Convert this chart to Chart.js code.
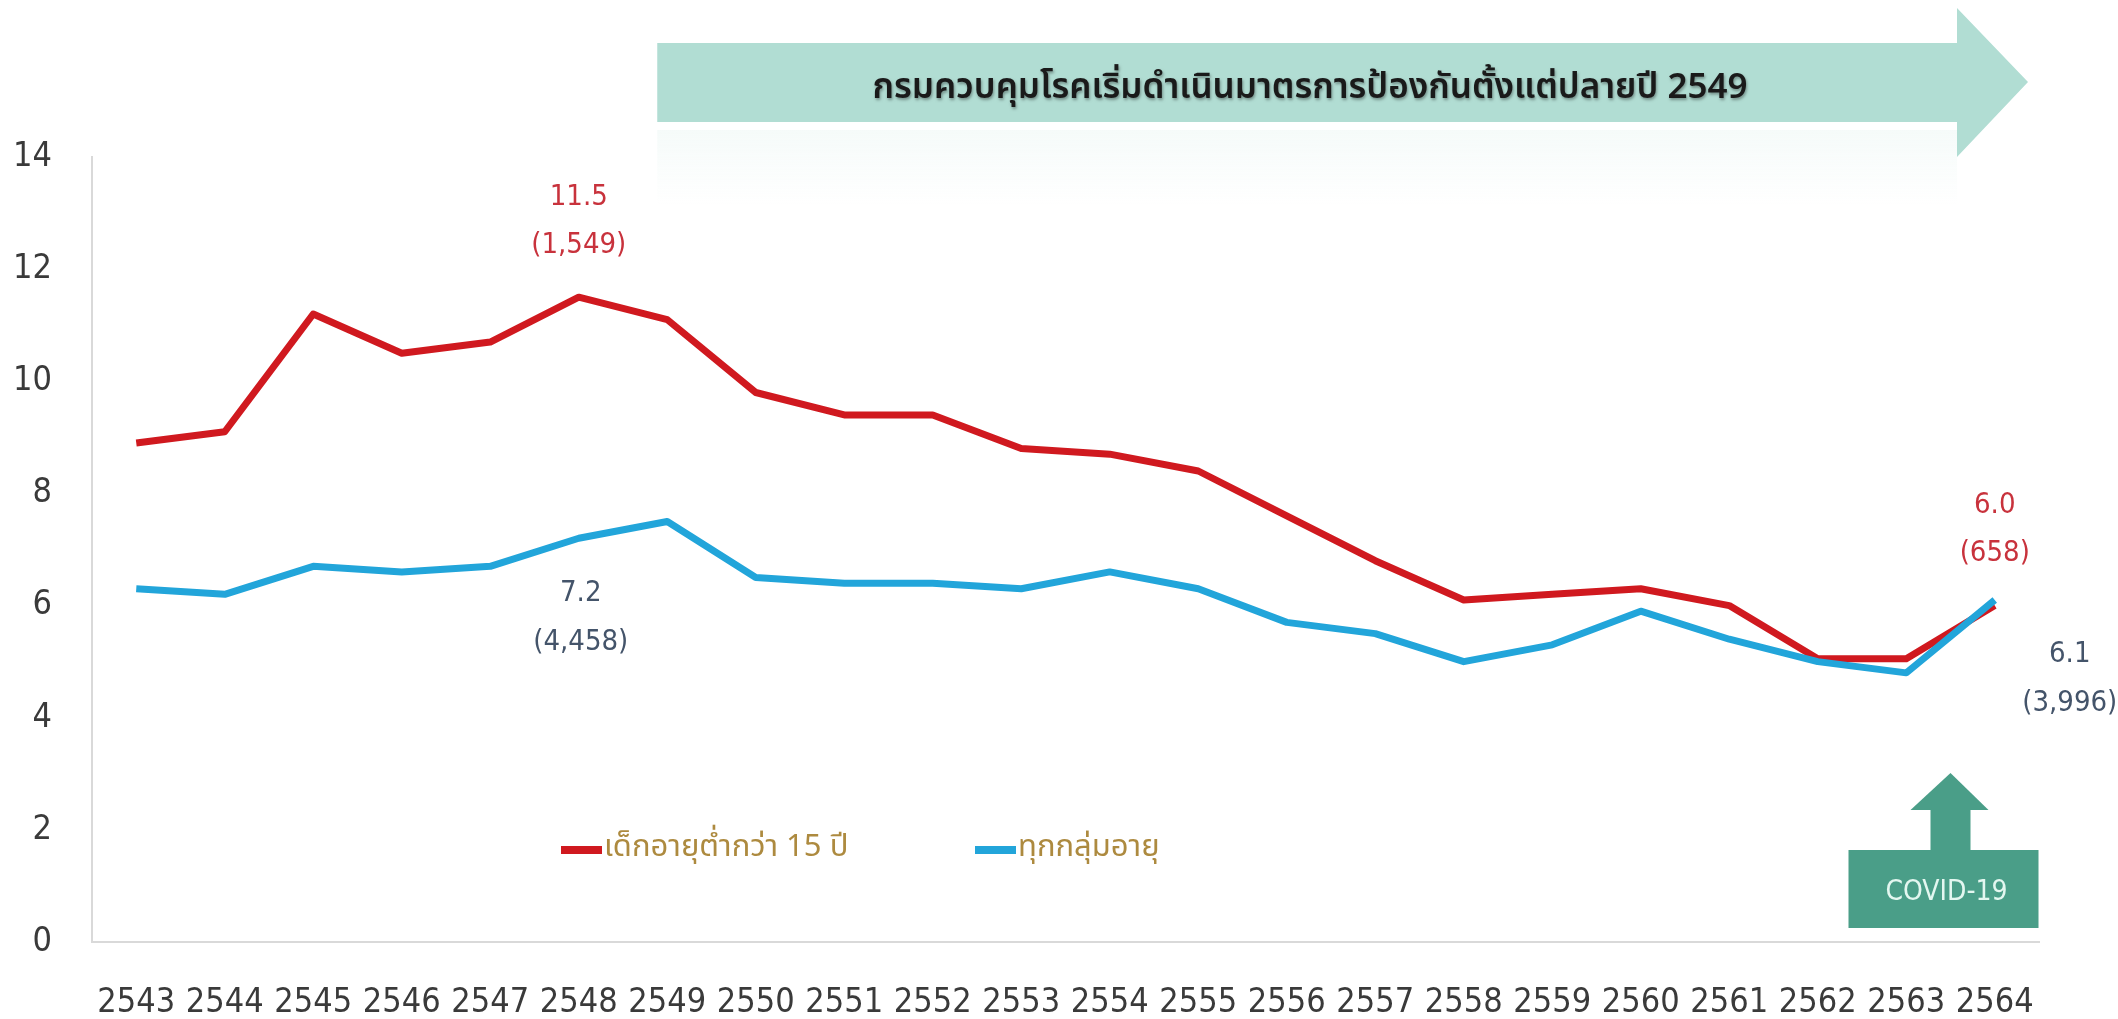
<!DOCTYPE html>
<html lang="th">

<head>
  <meta charset="UTF-8" />
  <meta name="viewport" content="width=device-width, initial-scale=1.0" />
  <title>อัตราป่วย</title>
  <style>
    * {
      margin: 0;
      padding: 0;
    }

    body {
      background: #ffffff;
      overflow: hidden;
    }

    .chartBox {
      width: 2118px;
      height: 1019px;
    }
  </style>
</head>

<body>
  <div class="chartBox">
    <canvas id="myChart"></canvas>
  </div>
  <script src="https://cdn.jsdelivr.net/npm/chart.js@4.4.1/dist/chart.umd.min.js"></script>
  <script>
    const years = [
      "2543", "2544", "2545", "2546", "2547", "2548", "2549", "2550", "2551", "2552", "2553",
      "2554", "2555", "2556", "2557", "2558", "2559", "2560", "2561", "2562", "2563", "2564"
    ];
    const childRate = [
      8.9, 9.1, 11.2, 10.5, 10.7, 11.5, 11.1, 9.8, 9.4, 9.4, 8.8,
      8.7, 8.4, 7.6, 6.8, 6.1, 6.2, 6.3, 6.0, 5.05, 5.05, 6.0
    ];
    const allRate = [
      6.3, 6.2, 6.7, 6.6, 6.7, 7.2, 7.5, 6.5, 6.4, 6.4, 6.3,
      6.6, 6.3, 5.7, 5.5, 5.0, 5.3, 5.9, 5.4, 5.0, 4.8, 6.1
    ];
    const seriesNames = ["เด็กอายุต่ำกว่า 15 ปี", "ทุกกลุ่มอายุ"];
    // callout texts keyed by year index
    const childNotes = { 5: ["11.5", "(1,549)"], 21: ["6.0", "(658)"] };
    const allNotes = { 5: ["7.2", "(4,458)"], 21: ["6.1", "(3,996)"] };
    const bannerText = "กรมควบคุมโรคเริ่มดำเนินมาตรการป้องกันตั้งแต่ปลายปี 2549";
    const covidText = "COVID-19";

    const RED = "#D0191F";
    const BLUE = "#22A5DA";
    const narrow = "'Liberation Sans Narrow', 'DejaVu Sans Condensed', 'Liberation Sans', sans-serif";
    const thai = "'Noto Sans Thai', 'Noto Sans Thai UI', 'Loma', 'Garuda', 'Tlwg Typo', sans-serif";

    const decorations = {
      id: "decorations",
      beforeDatasetsDraw(chart) {
        const ctx = chart.ctx;
        const x = chart.scales.x;
        ctx.save();

        // banner arrow with faint reflection
        const bx0 = x.getPixelForValue(6) - 10;
        const bx1 = 1957;
        const grad = ctx.createLinearGradient(0, 130, 0, 205);
        grad.addColorStop(0, "rgba(177,221,211,0.12)");
        grad.addColorStop(1, "rgba(177,221,211,0)");
        ctx.fillStyle = grad;
        ctx.fillRect(bx0, 130, bx1 - bx0, 75);
        ctx.fillStyle = "#B1DDD3";
        ctx.beginPath();
        ctx.moveTo(bx0, 43);
        ctx.lineTo(bx1, 43);
        ctx.lineTo(bx1, 8);
        ctx.lineTo(2028, 82);
        ctx.lineTo(bx1, 157);
        ctx.lineTo(bx1, 122);
        ctx.lineTo(bx0, 122);
        ctx.closePath();
        ctx.fill();

        ctx.font = "600 35px " + thai;
        ctx.textAlign = "center";
        ctx.textBaseline = "middle";
        ctx.shadowColor = "rgba(0,0,0,0.35)";
        ctx.shadowBlur = 3;
        ctx.shadowOffsetX = 1;
        ctx.shadowOffsetY = 2;
        ctx.fillStyle = "#1a1a1a";
        ctx.fillText(bannerText, 1310, 91);
        ctx.shadowColor = "transparent";

        // covid box with up arrow
        const cx = (x.getPixelForValue(20) + x.getPixelForValue(21)) / 2;
        ctx.fillStyle = "#4A9E88";
        ctx.fillRect(cx - 102, 850, 190, 78);
        ctx.fillRect(cx - 20, 808, 40, 44);
        ctx.beginPath();
        ctx.moveTo(cx - 40, 810);
        ctx.lineTo(cx, 773);
        ctx.lineTo(cx + 38, 810);
        ctx.closePath();
        ctx.fill();
        ctx.font = "28px 'DejaVu Sans Condensed', 'DejaVu Sans', sans-serif";
        ctx.fillStyle = "#E3F7F0";
        ctx.fillText(covidText, cx - 4, 893);

        // legend inside plot
        const ly = 850;
        const items = [
          { color: RED, x0: 561, text: seriesNames[0] },
          { color: BLUE, x0: 975, text: seriesNames[1] }
        ];
        ctx.textAlign = "left";
        ctx.font = "31px " + thai;
        items.forEach((it) => {
          ctx.strokeStyle = it.color;
          ctx.lineWidth = 8;
          ctx.beginPath();
          ctx.moveTo(it.x0, ly);
          ctx.lineTo(it.x0 + 41, ly);
          ctx.stroke();
          ctx.fillStyle = "#AD8A3F";
          ctx.fillText(it.text, it.x0 + 43, ly);
        });
        ctx.restore();
      },
      afterDatasetsDraw(chart) {
        const ctx = chart.ctx;
        const x = chart.scales.x;
        const y = chart.scales.y;
        ctx.save();
        ctx.font = "29px 'DejaVu Sans Condensed', 'DejaVu Sans', sans-serif";
        ctx.textAlign = "center";
        ctx.textBaseline = "middle";
        ctx.fillStyle = "#C8323C";
        Object.keys(childNotes).forEach((k) => {
          const i = Number(k);
          const px = x.getPixelForValue(i);
          const py = y.getPixelForValue(childRate[i]);
          ctx.fillText(childNotes[k][0], px, py - 100);
          ctx.fillText(childNotes[k][1], px, py - 52);
        });
        ctx.fillStyle = "#44546A";
        Object.keys(allNotes).forEach((k) => {
          const i = Number(k);
          const px = x.getPixelForValue(i) + (i === years.length - 1 ? 75 : 2);
          const py = y.getPixelForValue(allRate[i]);
          ctx.fillText(allNotes[k][0], px, py + 55);
          ctx.fillText(allNotes[k][1], px, py + 104);
        });
        ctx.restore();
      }
    };

    const data = {
      labels: years,
      datasets: [
        {
          label: seriesNames[0],
          data: childRate,
          borderColor: RED,
          backgroundColor: RED,
          order: 1
        },
        {
          label: seriesNames[1],
          data: allRate,
          borderColor: BLUE,
          backgroundColor: BLUE,
          order: 0
        }
      ]
    };

    const tickFont = { family: narrow, size: 34 };

    const options = {
      responsive: true,
      maintainAspectRatio: false,
      animation: false,
      layout: {
        padding: { top: 157, right: 79, bottom: 0, left: 0 }
      },
      elements: {
        point: { radius: 0, hoverRadius: 0 },
        line: { borderWidth: 7, tension: 0, borderJoinStyle: "round", borderCapStyle: "butt" }
      },
      plugins: {
        legend: { display: false },
        tooltip: { enabled: false }
      },
      scales: {
        x: {
          offset: true,
          grid: { display: false, drawTicks: false },
          border: { color: "#D9D9D9", width: 2 },
          ticks: { font: tickFont, color: "#3A3A3A", padding: 41, maxRotation: 0, autoSkip: false },
          afterFit: function (scale) {
            scale.height = 77;
          }
        },
        y: {
          min: 0,
          max: 14,
          grid: { display: false, drawTicks: false },
          border: { color: "#D9D9D9", width: 2 },
          ticks: { stepSize: 2, font: tickFont, color: "#3A3A3A", padding: 40 },
          afterFit: function (scale) {
            scale.width = 92;
          }
        }
      }
    };

    const config = {
      type: "line",
      data: data,
      options: options,
      plugins: [decorations]
    };

    const ctx = document.getElementById("myChart").getContext("2d");
    const myChart = new Chart(ctx, config);
  </script>
</body>

</html>
